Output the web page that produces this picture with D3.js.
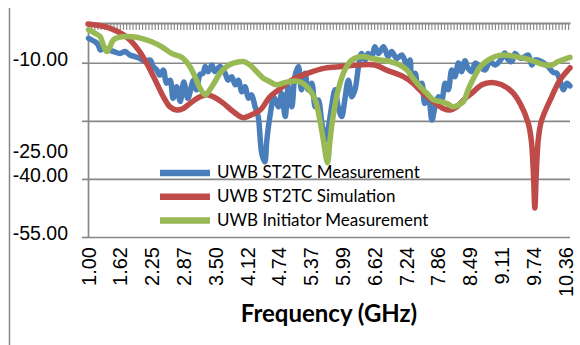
<!DOCTYPE html>
<html>
<head>
<meta charset="utf-8">
<script src="https://cdn.jsdelivr.net/npm/d3@7"></script>
<style>
body { margin: 0; background: #fff; }
svg { font-family: Lato, "Open Sans", sans-serif; }
</style>
</head>
<body>
<div id="chart"></div>
<script>
// axis values
const yTicks = [-10, -25, -40, -55];
const xLabels = [1.00, 1.62, 2.25, 2.87, 3.50, 4.12, 4.74, 5.37, 5.99, 6.62, 7.24, 7.86, 8.49, 9.11, 9.74, 10.36];
const seriesNames = ['UWB ST2TC Measurement', 'UWB ST2TC Simulation', 'UWB Initiator Measurement'];

// UWB ST2TC Measurement (GHz, dB)
const measFreq = [1.01, 1.07, 1.14, 1.20, 1.24, 1.30, 1.40, 1.50, 1.63, 1.73, 1.82, 1.92, 2.02, 2.12, 2.22, 2.28, 2.35, 2.41,
    2.48, 2.54, 2.61, 2.67, 2.74, 2.81, 2.88, 2.96, 3.07, 3.13, 3.20, 3.26, 3.30, 3.36, 3.43, 3.49, 3.59, 3.69, 3.75, 3.82,
    3.89, 3.95, 4.02, 4.08, 4.15, 4.21, 4.28, 4.34, 4.41, 4.47, 4.51, 4.57, 4.65, 4.74, 4.80, 4.87, 4.93, 5.00, 5.06, 5.13,
    5.19, 5.26, 5.32, 5.39, 5.46, 5.52, 5.59, 5.65, 5.72, 5.78, 5.85, 5.91, 5.98, 6.04, 6.11, 6.18, 6.24, 6.31, 6.37, 6.44,
    6.50, 6.57, 6.63, 6.70, 6.80, 6.89, 6.96, 7.06, 7.16, 7.26, 7.32, 7.35, 7.42, 7.48, 7.55, 7.61, 7.68, 7.75, 7.81, 7.88,
    7.94, 8.01, 8.07, 8.14, 8.20, 8.27, 8.33, 8.40, 8.46, 8.53, 8.60, 8.69, 8.79, 8.89, 8.99, 9.12, 9.18, 9.25, 9.32, 9.38,
    9.44, 9.51, 9.64, 9.71, 9.77, 9.90, 10.03, 10.13, 10.20, 10.26, 10.33, 10.40, 10.46];
const measDb = [-3.7, -4.1, -4.6, -5.4, -6.7, -6.3, -6.7, -7.1, -7.6, -7.1, -8.0, -8.4, -8.9, -9.7, -9.3, -11.0, -11.9, -13.2,
    -11.9, -15.3, -14.5, -19.2, -16.2, -20.0, -15.0, -19.2, -14.5, -17.0, -13.0, -12.7, -11.0, -12.3, -10.6, -12.3, -11.0, -12.7, -14.5, -13.6,
    -15.7, -14.5, -17.5, -16.2, -19.2, -18.3, -21.4, -23.9, -33.4, -35.6, -30.0, -23.9, -19.0, -21.4, -17.9, -23.9, -16.2, -21.4, -13.6, -11.0,
    -17.0, -12.7, -17.0, -15.3, -21.4, -19.6, -25.6, -30.0, -26.5, -21.4, -17.0, -21.4, -23.9, -19.6, -14.5, -18.8, -17.0, -11.0, -7.6, -9.3,
    -7.6, -8.4, -5.9, -7.6, -5.9, -8.4, -7.1, -8.9, -8.0, -10.6, -9.3, -14.5, -12.7, -16.6, -15.3, -20.5, -18.8, -24.8, -21.4, -18.8,
    -19.6, -15.3, -17.0, -11.9, -13.6, -10.1, -12.3, -9.5, -11.5, -12.3, -10.1, -11.0, -11.9, -9.7, -10.6, -8.9, -7.5, -9.3, -9.7, -7.6,
    -8.4, -8.9, -8.0, -10.6, -9.3, -9.7, -11.0, -12.5, -12.7, -14.5, -17.0, -15.3, -16.0];

// UWB ST2TC Simulation
const simFreq = [1.00, 1.33, 1.59, 1.79, 1.99, 2.15, 2.32, 2.48, 2.61, 2.74, 2.87, 3.00, 3.20, 3.33, 3.46, 3.66, 3.85, 4.05,
    4.18, 4.38, 4.57, 4.74, 5.00, 5.32, 5.65, 5.98, 6.31, 6.63, 6.86, 7.19, 7.38, 7.58, 7.78, 7.97, 8.11, 8.24, 8.37, 8.53,
    8.73, 8.92, 9.12, 9.32, 9.48, 9.64, 9.70, 9.74, 9.77, 9.80, 9.84, 9.90, 10.10, 10.26, 10.46];
const simDb = [0, -0.7, -2.0, -3.7, -6.7, -10.1, -14.5, -18.8, -21.4, -22.2, -21.8, -20.5, -18.8, -18.3, -18.8, -20.5, -22.6, -24.2,
    -23.6, -22.2, -18.8, -17.0, -14.5, -12.7, -11.4, -11.0, -10.6, -10.6, -11.9, -13.6, -15.3, -17.9, -20.0, -21.8, -22.2, -21.4, -19.6, -17.9,
    -15.7, -15.1, -15.7, -17.5, -20.5, -25.6, -30.0, -38.0, -47.5, -38.0, -29.5, -25.0, -18.8, -14.5, -11.3];

// UWB Initiator Measurement
const initFreq = [1.01, 1.14, 1.24, 1.30, 1.37, 1.43, 1.50, 1.66, 1.86, 2.05, 2.25, 2.45, 2.64, 2.84, 3.00, 3.10, 3.20, 3.30,
    3.39, 3.49, 3.59, 3.72, 3.85, 4.05, 4.18, 4.31, 4.44, 4.57, 4.70, 4.87, 5.06, 5.19, 5.32, 5.46, 5.55, 5.62, 5.70, 5.75,
    5.81, 5.91, 6.04, 6.18, 6.37, 6.57, 6.73, 6.93, 7.12, 7.26, 7.38, 7.52, 7.65, 7.78, 7.91, 8.04, 8.17, 8.27, 8.37, 8.46,
    8.53, 8.63, 8.73, 8.99, 9.18, 9.38, 9.58, 9.77, 9.97, 10.10, 10.23, 10.46];
const initDb = [-1.5, -2.4, -3.3, -5.4, -7.1, -5.9, -4.1, -3.3, -3.3, -3.7, -4.6, -5.9, -7.6, -8.6, -11.0, -13.6, -16.6, -18.3,
    -17.0, -14.9, -12.7, -11.0, -10.1, -9.7, -10.6, -12.3, -14.0, -14.9, -15.7, -15.1, -14.7, -15.1, -16.5, -19.6, -24.8, -30.0, -35.8, -30.0,
    -23.9, -17.0, -11.9, -9.3, -8.4, -8.9, -9.3, -9.7, -10.6, -11.9, -14.0, -16.2, -17.9, -19.6, -20.0, -20.5, -21.4, -20.9, -20.0, -17.0,
    -15.0, -12.5, -10.6, -8.4, -8.0, -8.4, -8.9, -9.7, -10.6, -10.6, -9.7, -8.6];

const colors = ['#4a7ebb', '#be4b48', '#98b954'];
const gridColor = '#878787';

let svg = d3.select('#chart').append('svg')
    .attr('width', 580)
    .attr('height', 345);

let x = d3.scaleLinear().domain([1, 10.46]).range([88, 570]);
let y = d3.scaleLinear().domain([-55, 0]).range([237, 24]);

// chart area border (left edge only visible)
svg.append('line')
    .attr('x1', 9.5).attr('x2', 9.5)
    .attr('y1', 8).attr('y2', 345)
    .attr('stroke', gridColor).attr('stroke-width', 1.5);

// gridlines
let grid = svg.append('g')
    .attr('transform', 'translate(88,0)')
    .call(d3.axisLeft(y).tickValues(yTicks).tickSize(-482).tickFormat(''));
grid.select('.domain').remove();
grid.selectAll('line').attr('stroke', gridColor).attr('stroke-width', 1.7);

// y axis
let yAxis = svg.append('g')
    .attr('transform', 'translate(88,0)')
    .call(d3.axisLeft(y).tickValues(yTicks).tickSize(6).tickSizeOuter(0).tickPadding(14)
        .tickFormat(d => d.toFixed(2)));
yAxis.select('.domain').attr('stroke', gridColor).attr('stroke-width', 1.7);
yAxis.selectAll('line').attr('stroke', gridColor).attr('stroke-width', 1.7);
yAxis.selectAll('text')
    .attr('fill', '#000')
    .style('font-size', '19.5px')
    .attr('dy', d => d === -25 ? '1.9em' : '0.15em');

// x axis line at 0 dB with dense category ticks
let minorTicks = d3.range(0, 152).map(k => 1 + k * 0.0624);
let xTop = svg.append('g')
    .attr('transform', 'translate(0,' + (y(0) - 1) + ')')
    .call(d3.axisBottom(x).tickValues(minorTicks).tickSize(7).tickSizeOuter(0).tickFormat(''));
xTop.select('.domain').attr('stroke', gridColor).attr('stroke-width', 2);
xTop.selectAll('line').attr('stroke', '#8c8c8c').attr('stroke-width', 1.2);

// x tick labels (rotated)
let xAxis = svg.append('g')
    .attr('transform', 'translate(0,' + y(-55) + ')')
    .call(d3.axisBottom(x).tickValues(xLabels).tickSize(0).tickFormat(d => d.toFixed(2)));
xAxis.select('.domain').remove();
xAxis.selectAll('text')
    .attr('transform', 'rotate(-90)')
    .attr('x', -10)
    .attr('y', 0)
    .attr('dy', '0.36em')
    .attr('text-anchor', 'end')
    .attr('fill', '#000')
    .style('font-size', '20px');

// series
let lineGen = d3.line()
    .x(d => x(d[0]))
    .y(d => y(d[1]))
    .curve(d3.curveCatmullRom.alpha(0.5));

let series = [
    d3.zip(measFreq, measDb),
    d3.zip(simFreq, simDb),
    d3.zip(initFreq, initDb)
];

svg.append('g')
    .selectAll('path')
    .data(series)
    .enter().append('path')
    .attr('d', lineGen)
    .attr('fill', 'none')
    .attr('stroke', (d, i) => colors[i])
    .attr('stroke-width', 5.5)
    .attr('stroke-linejoin', 'round')
    .attr('stroke-linecap', 'round');

// legend
let legend = svg.append('g')
    .selectAll('g')
    .data(seriesNames)
    .enter().append('g')
    .attr('transform', (d, i) => 'translate(160,' + (173 + i * 23.7) + ')');

legend.append('line')
    .attr('x1', 0).attr('x2', 50)
    .attr('stroke', (d, i) => colors[i])
    .attr('stroke-width', 6.5);

legend.append('text')
    .attr('x', 57)
    .attr('dy', '0.3em')
    .style('font-size', '17px')
    .attr('fill', '#000')
    .text(d => d);

// axis title
svg.append('text')
    .attr('x', 329)
    .attr('y', 322)
    .attr('text-anchor', 'middle')
    .style('font-size', '24px')
    .style('font-weight', 'bold')
    .text('Frequency (GHz)');
</script>
</body>
</html>
